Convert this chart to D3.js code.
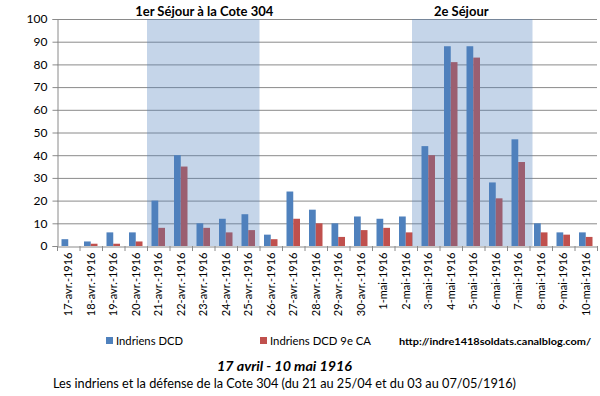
<!DOCTYPE html>
<html>
<head>
<meta charset="utf-8">
<script src="https://cdn.jsdelivr.net/npm/d3@7"></script>
<style>
  body{margin:0;background:#fff;}
  text{font-family:Lato,"Open Sans",sans-serif;fill:#000;}
</style>
</head>
<body>
<div id="chart"></div>
<script>
const days=["17-avr.-1916","18-avr.-1916","19-avr.-1916","20-avr.-1916","21-avr.-1916","22-avr.-1916",
  "23-avr.-1916","24-avr.-1916","25-avr.-1916","26-avr.-1916","27-avr.-1916","28-avr.-1916",
  "29-avr.-1916","30-avr.-1916","1-mai-1916","2-mai-1916","3-mai-1916","4-mai-1916",
  "5-mai-1916","6-mai-1916","7-mai-1916","8-mai-1916","9-mai-1916","10-mai-1916"];
const dcd=[3,2,6,6,20,40,10,12,14,5,24,16,10,13,12,13,44,88,88,28,47,10,6,6];
const dcd9=[0,1,1,2,8,35,8,6,7,3,12,10,4,7,8,6,40,81,83,21,37,6,5,4];
const seriesNames=["Indriens DCD","Indriens DCD 9e CA"];
const yTicks=[0,10,20,30,40,50,60,70,80,90,100];
const sejours=[
  {label:"1er Séjour à la Cote 304",from:"21-avr.-1916",to:"25-avr.-1916"},
  {label:"2e Séjour",from:"3-mai-1916",to:"7-mai-1916"}
];

const w=600,h=396;
const colors=["#4F81BD","#C0504D"];
const pLeft=57,pRight=597,pTop=19,pBottom=246;

const svg=d3.select("#chart").append("svg").attr("width",w).attr("height",h);

const x=d3.scaleBand().domain(days).range([pLeft,pRight]);
const xs=d3.scaleBand().domain(seriesNames).range([4.5,18]);
const y=d3.scaleLinear().domain([0,100]).range([pBottom,pTop]);

// gridlines
svg.append("g").selectAll("line").data(yTicks.filter(d=>d>0)).enter().append("line")
  .attr("x1",pLeft).attr("x2",pRight)
  .attr("y1",d=>y(d)+0.5).attr("y2",d=>y(d)+0.5)
  .attr("stroke","#8a8a8a").attr("stroke-width",1);

// bars
const rows=days.map((d,i)=>({day:d,vals:[dcd[i],dcd9[i]]}));
const grp=svg.append("g").selectAll("g").data(rows).enter().append("g")
  .attr("transform",d=>`translate(${x(d.day)},0)`);
grp.selectAll("rect").data(d=>d.vals.map((v,k)=>({v,k}))).enter().append("rect")
  .attr("x",d=>xs(seriesNames[d.k]))
  .attr("width",xs.bandwidth())
  .attr("y",d=>y(d.v))
  .attr("height",d=>pBottom-y(d.v))
  .attr("fill",d=>colors[d.k]);

// shaded periods, drawn over the bars
const pads=[[0,0],[-5,3]];
const labelShift=[1,-11];
sejours.forEach((s,i)=>{
  const x0=x(s.from)+pads[i][0];
  const x1=x(s.to)+x.bandwidth()+pads[i][1];
  svg.append("rect").attr("x",x0).attr("y",pTop).attr("width",x1-x0).attr("height",pBottom-pTop)
    .attr("fill","#4F81BD").attr("fill-opacity",0.33);
  svg.append("text").attr("x",(x0+x1)/2+labelShift[i]).attr("y",16)
    .attr("text-anchor","middle").attr("font-weight","bold").attr("font-size","13px")
    .text(s.label);
});

// axes
const yAxis=svg.append("g").attr("transform",`translate(${pLeft+0.5},0)`)
  .call(d3.axisLeft(y).tickValues(yTicks).tickSize(5).tickPadding(5));
yAxis.select(".domain").attr("stroke","#8a8a8a");
yAxis.selectAll(".tick line").attr("stroke","#8a8a8a");
yAxis.selectAll(".tick text").attr("font-size","12px").attr("font-family","Lato,sans-serif");

const xAxis=svg.append("g").attr("transform",`translate(0,${pBottom+0.5})`)
  .call(d3.axisBottom(x).tickSize(0).tickPadding(0));
xAxis.select(".domain").attr("stroke","#8a8a8a");
xAxis.selectAll(".tick text")
  .attr("font-size","11px").attr("font-family","Lato,sans-serif")
  .attr("text-anchor","end")
  .attr("transform","rotate(-90)")
  .attr("x",-6).attr("y",0).attr("dy","0.35em");
// boundary ticks
svg.append("g").selectAll("line").data(d3.range(days.length+1)).enter().append("line")
  .attr("x1",i=>pLeft+i*x.step()+0.5).attr("x2",i=>pLeft+i*x.step()+0.5)
  .attr("y1",pBottom).attr("y2",pBottom+5)
  .attr("stroke","#8a8a8a");

// legend
const legX=[106,260];
const legW=[67,101];
seriesNames.forEach((n,i)=>{
  svg.append("rect").attr("x",legX[i]).attr("y",337).attr("width",7).attr("height",7).attr("fill",colors[i]);
  svg.append("text").attr("x",legX[i]+10).attr("y",345).attr("font-size","12px")
    .attr("textLength",legW[i]).attr("lengthAdjust","spacingAndGlyphs").text(n);
});

svg.append("text").attr("x",399).attr("y",345)
  .attr("font-family","'DejaVu Sans',sans-serif").attr("font-weight","bold").attr("font-size","9.5px")
  .attr("textLength",192).attr("lengthAdjust","spacingAndGlyphs")
  .text("http://indre1418soldats.canalblog.com/");

svg.append("text").attr("x",217).attr("y",371)
  .attr("font-weight","bold").attr("font-style","italic").attr("font-size","14px")
  .attr("textLength",135).attr("lengthAdjust","spacingAndGlyphs")
  .text("17 avril - 10 mai 1916");

svg.append("text").attr("x",53).attr("y",388)
  .attr("font-size","12.5px")
  .attr("textLength",463).attr("lengthAdjust","spacingAndGlyphs")
  .text("Les indriens et la défense de la Cote 304 (du 21 au 25/04 et du 03 au 07/05/1916)");
</script>
</body>
</html>
